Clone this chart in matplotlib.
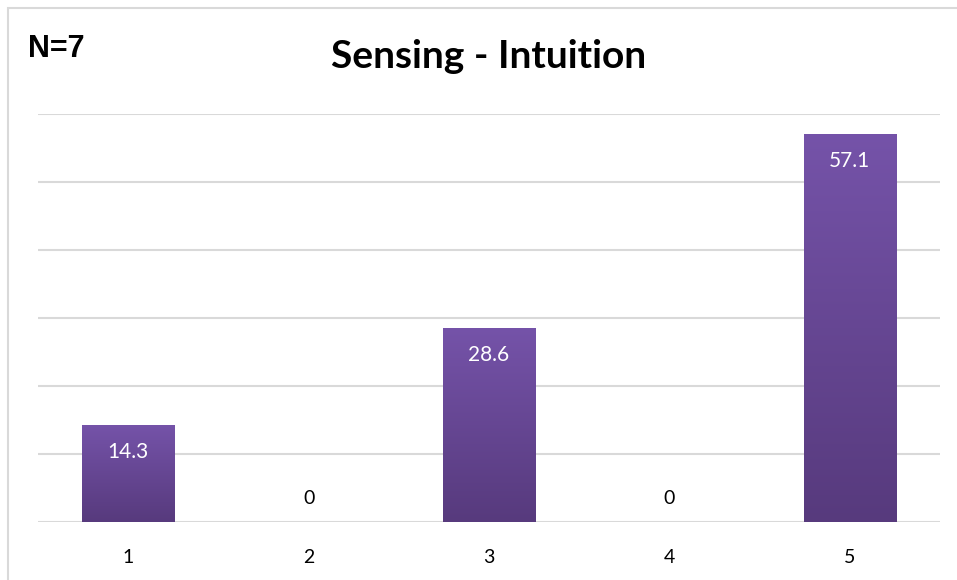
import numpy as np
import matplotlib.pyplot as plt
from matplotlib.colors import LinearSegmentedColormap
from matplotlib.patches import Rectangle

categories = ['1', '2', '3', '4', '5']
percent = [14.3, 0, 28.6, 0, 57.1]
yticks = [0, 10, 20, 30, 40, 50, 60]

fig = plt.figure(figsize=(9.57, 5.80), dpi=100)
# outer chart frame, only the top and left edges fall inside the image
fig.patches.append(Rectangle((8 / 957, -0.1), 1.2, 1.1 - 8 / 580, transform=fig.transFigure,
                             fill=False, edgecolor='#d9d9d9', linewidth=1.5))

ax = fig.add_axes([38 / 957, 58 / 580, 902 / 957, 408 / 580])
x = np.arange(1, len(categories) + 1)
ax.set_xlim(0.5, 5.5)
ax.set_ylim(0, 60)
ax.set_yticks(yticks)
ax.yaxis.grid(True, color='#d9d9d9', linewidth=1.5)
ax.set_axisbelow(True)
for s in ax.spines.values():
    s.set_visible(False)
ax.tick_params(axis='y', left=False, labelleft=False)
ax.tick_params(axis='x', bottom=False, labelsize=14, pad=16)
ax.set_xticks(x)
ax.set_xticklabels(categories, fontfamily='Lato')

cmap = LinearSegmentedColormap.from_list('purp', ['#573a7d', '#7553a9'])
grad = np.linspace(0, 1, 256).reshape(-1, 1)
bars = ax.bar(x, percent, width=0.51, color='none', zorder=3)
for b, v in zip(bars, percent):
    if v <= 0:
        ax.text(b.get_x() + b.get_width() / 2, 3.4, '0', ha='center', va='center',
                fontsize=14, fontfamily='Lato', color='black')
        continue
    x0, w, h = b.get_x(), b.get_width(), b.get_height()
    # soft shadow under the bar
    ax.add_patch(Rectangle((x0 + 0.005, -0.6), w, h, facecolor='#000000', alpha=0.12,
                           edgecolor='none', zorder=2))
    im = ax.imshow(grad, cmap=cmap, extent=(x0, x0 + w, 0, h), origin='lower',
                   aspect='auto', zorder=3)
    im.set_clip_path(b)
    ax.text(x0 + w / 2, h - 4.0, f'{v:.1f}', ha='center', va='center',
            fontsize=15, fontfamily='Lato', color='white', zorder=4)
ax.set_xlim(0.5, 5.5)
ax.set_ylim(0, 60)

fig.text(489 / 957, 1 - 57 / 580, 'Sensing - Intuition', ha='center', va='center',
         fontsize=28, fontweight='bold', fontfamily='Lato')
fig.text(28 / 957, 1 - 49 / 580, 'N=7', ha='left', va='center',
         fontsize=22, fontweight='bold', fontfamily='Liberation Sans')

fig.savefig('out.png', dpi=100)
